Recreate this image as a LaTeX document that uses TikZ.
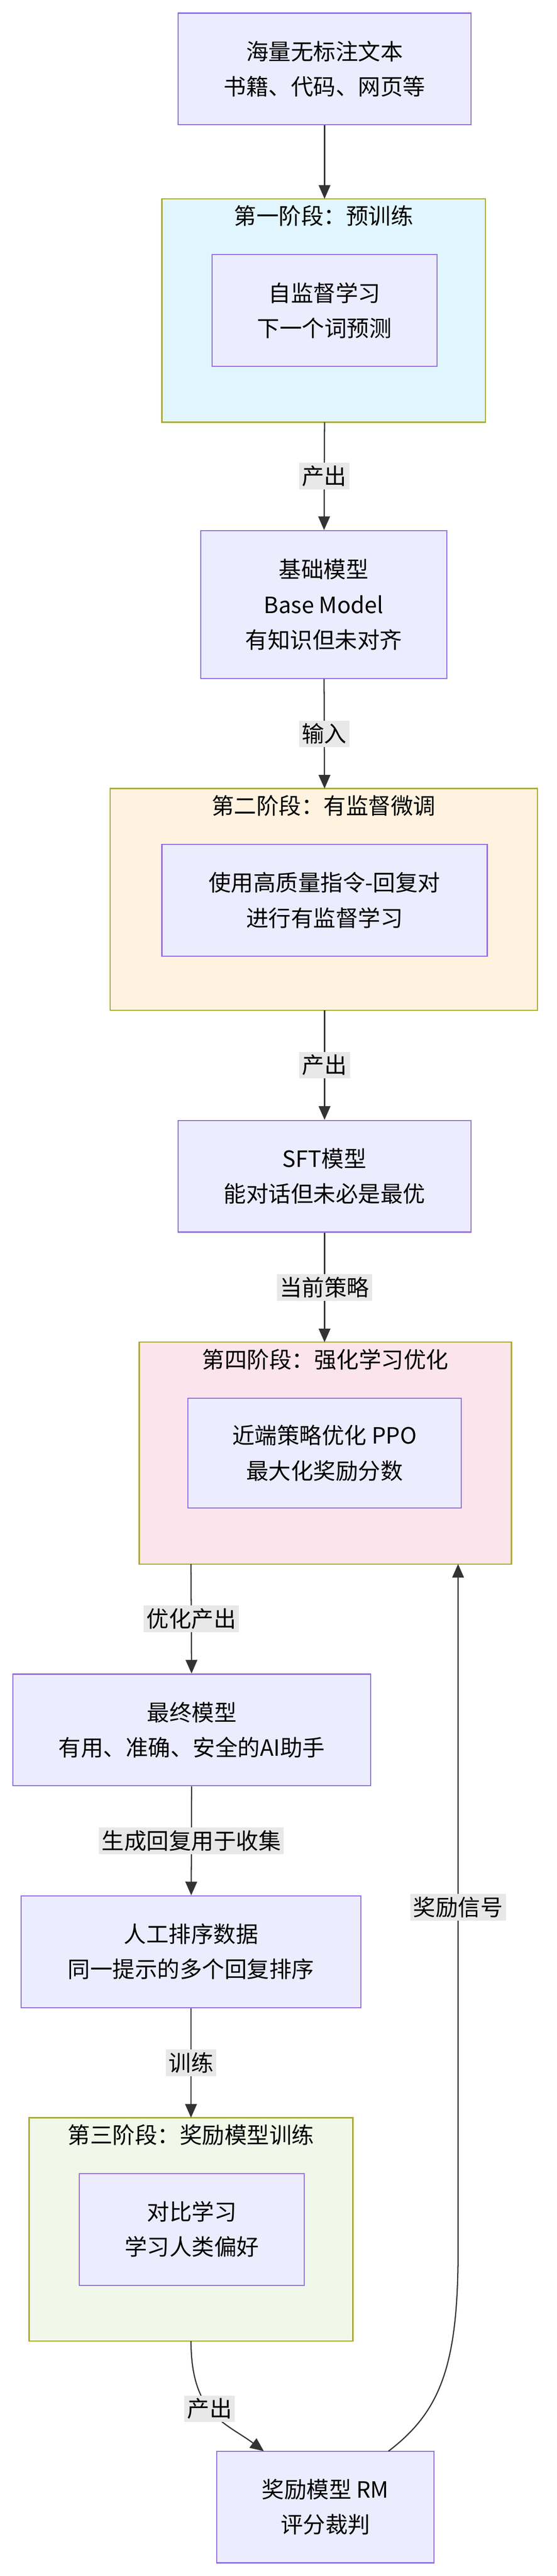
\documentclass[tikz,border=0pt]{standalone}
\usepackage{fontspec}
\setmainfont{Noto Sans CJK SC}
\usetikzlibrary{arrows.meta}
\definecolor{nodefill}{HTML}{ECECFF}
\definecolor{nodeline}{HTML}{9370DB}
\definecolor{clusterline}{HTML}{AAAA33}
\definecolor{labelfill}{HTML}{E8E8E8}
\definecolor{edgecol}{HTML}{333333}
\definecolor{stageone}{HTML}{E1F5FE}
\definecolor{stagetwo}{HTML}{FFF3E0}
\definecolor{stagefour}{HTML}{FCE4EC}
\definecolor{stagethree}{HTML}{F1F8E9}
\tikzset{
  box/.style={draw=nodeline, fill=nodefill, line width=1.2pt, align=center,
    font=\fontsize{23}{36}\selectfont, inner sep=0pt},
  stagebox/.style={draw=clusterline, line width=1.2pt},
  stagetitle/.style={font=\fontsize{23}{28}\selectfont, anchor=north},
  flowlabel/.style={fill=labelfill, font=\fontsize{23}{28}\selectfont, inner sep=3pt},
  flow/.style={draw=edgecol, line width=1.2pt, -{Triangle[length=14pt,width=12pt]}},
}
\begin{document}
\begin{tikzpicture}[x=1.6625pt, y=-1.686pt]
  \useasboundingbox (0,0) rectangle (344,1568);

  % stages
  \draw[stagebox, fill=stageone] (100,121) rectangle (300,257);
  \node[stagetitle] (t1) at (200,123) {第一阶段：预训练};
  \draw[stagebox, fill=stagetwo] (68,480) rectangle (332,615);
  \node[stagetitle] (t2) at (200,482) {第二阶段：有监督微调};
  \draw[stagebox, fill=stagefour] (86,817) rectangle (316,952);
  \node[stagetitle] (t4) at (201,819) {第四阶段：强化学习优化};
  \draw[stagebox, fill=stagethree] (18,1289) rectangle (218,1425);
  \node[stagetitle] (t3) at (118,1291) {第三阶段：奖励模型训练};

  % nodes
  \node[box, minimum width=181*1.6625pt, minimum height=68*1.686pt] (corpus) at (200.5,42) {海量无标注文本\\书籍、代码、网页等};
  \node[box, minimum width=139*1.6625pt, minimum height=68*1.686pt] (pretrain) at (200.5,189) {自监督学习\\下一个词预测};
  \node[box, minimum width=152*1.6625pt, minimum height=90*1.686pt] (base) at (200,368) {基础模型\\Base Model\\有知识但未对齐};
  \node[box, minimum width=201*1.6625pt, minimum height=68*1.686pt] (sftdata) at (200.5,548) {使用高质量指令-回复对\\进行有监督学习};
  \node[box, minimum width=181*1.6625pt, minimum height=68*1.686pt] (sft) at (200.5,716) {SFT模型\\能对话但未必是最优};
  \node[box, minimum width=169*1.6625pt, minimum height=67*1.686pt] (ppo) at (200.5,884.5) {近端策略优化 PPO\\最大化奖励分数};
  \node[box, minimum width=221*1.6625pt, minimum height=68*1.686pt] (final) at (118.5,1053) {最终模型\\有用、准确、安全的AI助手};
  \node[box, minimum width=210*1.6625pt, minimum height=68*1.686pt] (rank) at (118,1188) {人工排序数据\\同一提示的多个回复排序};
  \node[box, minimum width=139*1.6625pt, minimum height=68*1.686pt] (contrast) at (118.5,1357) {对比学习\\学习人类偏好};
  \node[box, minimum width=134*1.6625pt, minimum height=68*1.686pt] (rm) at (201,1526) {奖励模型 RM\\评分裁判};

  % anchors on stage borders
  \coordinate (s1top) at (200.5,121);
  \coordinate (s1bot) at (200.5,257);
  \coordinate (s2top) at (200.5,480);
  \coordinate (s2bot) at (200.5,615);
  \coordinate (s4top) at (200.5,817);
  \coordinate (s4bot) at (118,952);
  \coordinate (s4in) at (283,952);
  \coordinate (s3top) at (118,1289);
  \coordinate (s3bot) at (118,1425);
  \coordinate (rmin) at (163,1492);
  \coordinate (rmout) at (240,1492);

  % connectors
  \draw[flow] (corpus) -- (s1top);
  \draw[flow] (s1bot) -- node[flowlabel] {产出} (base);
  \draw[flow] (base) -- node[flowlabel] {输入} (s2top);
  \draw[flow] (s2bot) -- node[flowlabel] {产出} (sft);
  \draw[flow] (sft) -- node[flowlabel] {当前策略} (s4top);
  \draw[flow] (s4bot) -- node[flowlabel] {优化产出} (final);
  \draw[flow] (final) -- node[flowlabel] {生成回复用于收集} (rank);
  \draw[flow] (rank) -- node[flowlabel] {训练} (s3top);
  \draw[flow] (s3bot) .. controls (118,1470) and (140,1475) .. node[flowlabel, pos=0.45] {产出} (rmin);
  \draw[flow] (rmout) .. controls (272,1468) and (283,1440) .. (283,1370)
    -- node[flowlabel, pos=0.5] {奖励信号} (s4in);
\end{tikzpicture}
\end{document}
